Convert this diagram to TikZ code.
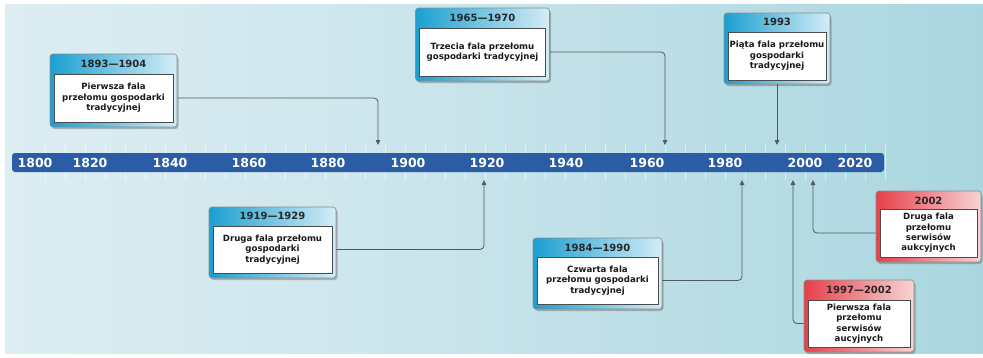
\documentclass[tikz,border=0pt]{standalone}
\usepackage{fontspec}
\setmainfont{DejaVu Sans}
\usetikzlibrary{shadows,arrows.meta}

\definecolor{barblue}{HTML}{2B5CA6}
\definecolor{bgA}{HTML}{F3F9FB}
\definecolor{bgB}{HTML}{CCE5EC}
\definecolor{bgC}{HTML}{8ECAD5}
\definecolor{hdBlueL}{HTML}{1A9FD1}
\definecolor{hdBlueR}{HTML}{D3EDF6}
\definecolor{hdRedL}{HTML}{E6404A}
\definecolor{hdRedR}{HTML}{F8D3D5}
\definecolor{linegray}{HTML}{505A5E}

\pgfdeclarehorizontalshading{bgshade}{100bp}{color(0bp)=(bgA); color(45bp)=(bgB); color(100bp)=(bgC)}

\tikzset{
  card/.style={draw=black!45, line width=0.6pt, rounded corners=3pt, inner sep=0pt,
    drop shadow={shadow xshift=1.5pt, shadow yshift=-2pt, opacity=0.35, fill=black!70}},
  bluecard/.style={card, left color=hdBlueL, right color=hdBlueR},
  redcard/.style={card, left color=hdRedL, right color=hdRedR},
  inbox/.style={draw=black!70, line width=0.5pt, fill=white, inner sep=0pt, align=center,
    font=\fontsize{8.6}{10.4}\selectfont\bfseries, text=black!90},
  hdr/.style={font=\fontsize{10}{12}\selectfont\bfseries, text=black!85, inner sep=0pt},
  yr/.style={font=\fontsize{12.5}{14}\selectfont\bfseries, text=white, inner sep=0pt},
  tickline/.style={draw=white, opacity=0.55, line width=0.6pt},
  conn/.style={draw=linegray, line width=0.8pt, rounded corners=4pt,
    -{Triangle[length=5pt,width=4.5pt]}},
}

\begin{document}
\begin{tikzpicture}[x=1pt,y=-1pt]
\useasboundingbox (0,0) rectangle (983,357);
\fill[white] (0,0) rectangle (983,357);
\shade[shading=bgshade] (5,4) rectangle (983,353);

% ticks along the time axis
\foreach \x in {45,65,...,885} \draw[tickline] (\x,145) -- (\x,180);

% time axis
\node[fill=barblue, rounded corners=3pt, minimum width=872pt, minimum height=19pt, inner sep=0pt] (bar) at (448,162.5) {};
\foreach \lab/\x in {1800/35,1820/90,1840/170,1860/249,1880/328,1900/408,1920/487,1940/566,1960/647,1980/725,2000/805,2020/855}
  \node[yr] (y\lab) at (\x,163) {\lab};

% arrow targets on the axis
\coordinate (t1893) at (378,145);
\coordinate (t1965) at (665,145);
\coordinate (t1993) at (777,145);
\coordinate (t1920) at (484,180);
\coordinate (t1984) at (742,180);
\coordinate (t1997) at (793,180);
\coordinate (t2002) at (813,180);

% 1893-1904
\node[bluecard, minimum width=127pt, minimum height=73pt] (b1) at (113.5,90.5) {};
\node[hdr] (b1h) at (113.5,63.5) {1893—1904};
\node[inbox, minimum width=119pt, minimum height=48pt] (b1i) at (113.5,98) {Pierwsza fala\\przełomu gospodarki\\tradycyjnej};

% 1919-1929
\node[bluecard, minimum width=127pt, minimum height=71pt] (b2) at (272.5,242.5) {};
\node[hdr] (b2h) at (272.5,216) {1919—1929};
\node[inbox, minimum width=119pt, minimum height=47pt] (b2i) at (272.5,249.5) {Druga fala przełomu\\gospodarki\\tradycyjnej};

% 1965-1970
\node[bluecard, minimum width=134pt, minimum height=73pt] (b3) at (482.5,44.5) {};
\node[hdr] (b3h) at (482.5,17.5) {1965—1970};
\node[inbox, minimum width=126pt, minimum height=48pt] (b3i) at (482.5,52) {Trzecia fala przełomu\\gospodarki tradycyjnej};

% 1984-1990
\node[bluecard, minimum width=129pt, minimum height=71pt] (b4) at (597.5,273.5) {};
\node[hdr] (b4h) at (597.5,247.5) {1984—1990};
\node[inbox, minimum width=121pt, minimum height=47pt] (b4i) at (597.5,280.5) {Czwarta fala\\przełomu gospodarki\\tradycyjnej};

% 1993
\node[bluecard, minimum width=106pt, minimum height=71pt] (b5) at (777,48.5) {};
\node[hdr] (b5h) at (777,22) {1993};
\node[inbox, minimum width=98pt, minimum height=48pt] (b5i) at (777,56) {Piąta fala przełomu\\gospodarki\\tradycyjnej};

% 2002
\node[redcard, minimum width=105pt, minimum height=71pt] (b6) at (928.5,226.5) {};
\node[hdr] (b6h) at (928.5,200.5) {2002};
\node[inbox, minimum width=97pt, minimum height=48pt] (b6i) at (928.5,233) {Druga fala\\przełomu\\serwisów\\aukcyjnych};

% 1997-2002
\node[redcard, minimum width=110pt, minimum height=72pt] (b7) at (859,316) {};
\node[hdr] (b7h) at (859,289.5) {1997—2002};
\node[inbox, minimum width=102pt, minimum height=47pt] (b7i) at (859,323.5) {Pierwsza fala\\przełomu\\serwisów\\aucyjnych};

% connectors
\draw[conn] (b1i.east -| b1.east) -| (t1893);
\draw[conn] (b2i.east -| b2.east) -| (t1920);
\draw[conn] (b3i.east -| b3.east) -| (t1965);
\draw[conn] (b4i.east -| b4.east) -| (t1984);
\draw[conn] (b5.south) -- (t1993);
\draw[conn] (b6i.west -| b6.west) -| (t2002);
\draw[conn] (b7i.west -| b7.west) -| (t1997);
\end{tikzpicture}
\end{document}
